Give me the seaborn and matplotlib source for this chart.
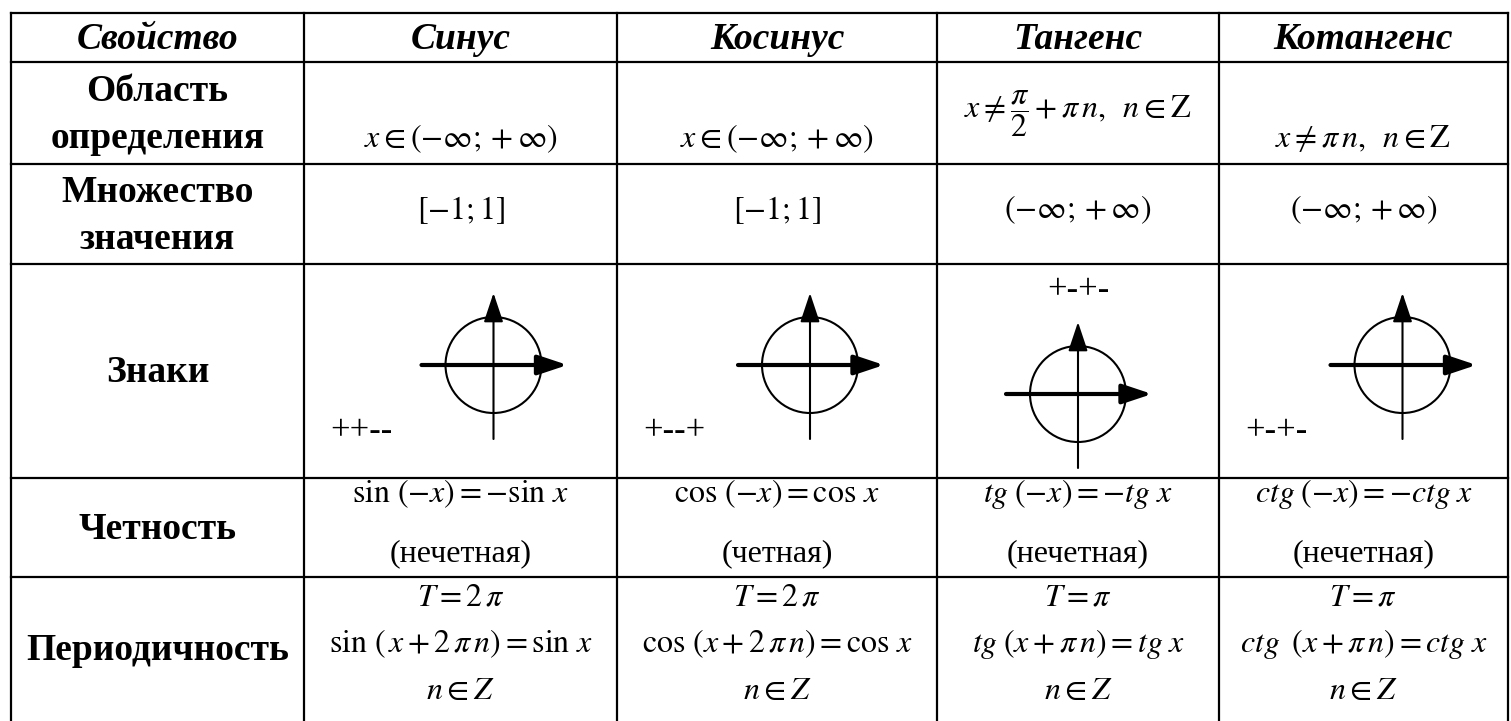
import matplotlib
matplotlib.use("Agg")
import matplotlib.pyplot as plt
from matplotlib.patches import Circle
import seaborn as sns

sns.set_theme(style="white")
plt.rcParams['font.family'] = ['Liberation Serif', 'DejaVu Serif']
plt.rcParams['mathtext.fontset'] = 'stix'
plt.rcParams['text.color'] = 'black'

# table content
headers = ['Свойство', 'Синус', 'Косинус', 'Тангенс', 'Котангенс']
row_labels = ['Область\nопределения', 'Множество\nзначения', 'Знаки', 'Четность', 'Периодичность']

domain = [r'$x\in(-\infty;+\infty)$',
          r'$x\in(-\infty;+\infty)$',
          r'$x\neq\dfrac{\pi}{2}+\pi\,n,\;\;n\in\mathrm{Z}$',
          r'$x\neq\pi\,n,\;\;n\in\mathrm{Z}$']
value_range = [r'$[-1;1]$', r'$[-1;1]$', r'$(-\infty;+\infty)$', r'$(-\infty;+\infty)$']
signs = ['++--', '+--+', '+-+-', '+-+-']
parity = [r'$\sin\,(-x)=-\sin\,x$', r'$\cos\,(-x)=\cos\,x$',
          r'$tg\;(-x)=-tg\;x$', r'$ctg\;(-x)=-ctg\;x$']
parity_word = ['(нечетная)', '(четная)', '(нечетная)', '(нечетная)']
period = [r'$T=2\,\pi$', r'$T=2\,\pi$', r'$T=\pi$', r'$T=\pi$']
period_eq = [r'$\sin\,(\,x+2\,\pi\,n)=\sin\,x$', r'$\cos\,(x+2\,\pi\,n)=\cos\,x$',
             r'$tg\;(x+\pi\,n)=tg\;x$', r'$ctg\;\;(x+\pi\,n)=ctg\;x$']
period_n = [r'$n\in Z$'] * 4

# layout in pixels
col_x = [11, 304, 617, 937, 1219, 1508]
row_y = [13, 62, 164, 264, 478, 577, 721]
# circle offset inside cell (dx, dy from cell centre) and where the sign string goes
circle_off = [(33, -6), (33, -6), (0, 23), (39, -6)]
sign_pos = ['bl', 'bl', 'top', 'bl']

fig = plt.figure(figsize=(15.11, 7.21), dpi=100)
ax = fig.add_axes([0, 0, 1, 1])
ax.set_xlim(0, 1511)
ax.set_ylim(721, 0)
ax.axis('off')

lw = 1.6
for x in col_x:
    ax.plot([x, x], [row_y[0], row_y[-1]], color='black', lw=lw, solid_capstyle='projecting')
for y in row_y[:-1]:
    ax.plot([col_x[0], col_x[-1]], [y, y], color='black', lw=lw, solid_capstyle='projecting')

cx = [(col_x[i] + col_x[i + 1]) / 2 for i in range(5)]
cy = [(row_y[i] + row_y[i + 1]) / 2 for i in range(6)]

for i, h in enumerate(headers):
    ax.text(cx[i], cy[0] + 2, h, ha='center', va='center', fontsize=27,
            fontweight='bold', fontstyle='italic')

for r, lab in enumerate(row_labels):
    ax.text(cx[0], cy[r + 1] + 2, lab, ha='center', va='center', fontsize=27,
            fontweight='bold', linespacing=1.45)

math_fs = 23
for j in range(4):
    c = cx[j + 1]
    # domain
    if j == 2:
        ax.text(c, 114, domain[j], ha='center', va='center', fontsize=math_fs)
    else:
        ax.text(c, 139, domain[j], ha='center', va='center', fontsize=math_fs)
    # range
    ax.text(c, 210, value_range[j], ha='center', va='center', fontsize=math_fs)
    # parity
    ax.text(c, 494, parity[j], ha='center', va='center', fontsize=math_fs)
    ax.text(c, 554, parity_word[j], ha='center', va='center', fontsize=23)
    # period
    ax.text(c, 598, period[j], ha='center', va='center', fontsize=math_fs)
    ax.text(c, 644, period_eq[j], ha='center', va='center', fontsize=math_fs)
    ax.text(c, 691, period_n[j], ha='center', va='center', fontsize=math_fs)

    # sign circle with axes
    ox, oy = c + circle_off[j][0], cy[3] + circle_off[j][1]
    ax.add_patch(Circle((ox, oy), 48, fill=False, lw=1.5, color='black'))
    ax.annotate('', xy=(ox, oy - 72), xytext=(ox, oy + 74),
                arrowprops=dict(arrowstyle='-|>,head_length=0.9,head_width=0.3',
                                lw=1.5, color='black', shrinkA=0, shrinkB=0,
                                mutation_scale=20))
    ax.annotate('', xy=(ox + 74, oy), xytext=(ox - 72, oy),
                arrowprops=dict(arrowstyle='-|>,head_length=0.9,head_width=0.3',
                                lw=3, color='black', shrinkA=0, shrinkB=0,
                                mutation_scale=20))
    if sign_pos[j] == 'bl':
        ax.text(col_x[j + 1] + 26, 432, signs[j], ha='left', va='center', fontsize=25)
    else:
        ax.text(ox, 291, signs[j], ha='center', va='center', fontsize=25)

fig.savefig('out.png', dpi=100, facecolor='white')
